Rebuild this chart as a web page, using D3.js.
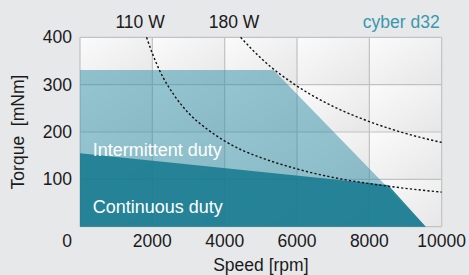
<!DOCTYPE html>
<html>
<head>
<meta charset="utf-8">
<script src="https://cdn.jsdelivr.net/npm/d3@7"></script>
<style>
  body { margin: 0; background: #e7e8ea; }
  svg { display: block; font-family: "Liberation Sans", Arial, sans-serif; }
</style>
</head>
<body>
<svg id="chart" width="469" height="275"></svg>
<script>
// operating ranges (speed rpm, torque mNm)
var intermittentSpeed = [0, 5350, 9560, 0];
var intermittentTorque = [331, 331, 0, 0];
var continuousSpeed = [0, 8520, 9560, 0];
var continuousTorque = [155, 88, 0, 0];

// power curves
var powerLabels = ["110 W", "180 W"];
var power1Speed = [1840, 2000, 2200, 2600, 3000, 3500, 4000, 4500, 5000, 6000, 7000, 8000, 9000, 10000];
var power1Torque = [400, 366, 330, 278, 240, 207, 181, 161, 146, 122, 104, 91, 81, 73];
var power2Speed = [4440, 5000, 6000, 7000, 8000, 9000, 10000];
var power2Torque = [400, 356, 297, 254, 222, 197, 178];

var xTicks = [0, 2000, 4000, 6000, 8000, 10000];
var yTicks = [0, 100, 200, 300, 400];
var title = "cyber d32";

var margin = {top: 37.3, right: 27.3, bottom: 48.3, left: 80};
var W = 469, H = 275;

var svg = d3.select("#chart");

var x = d3.scaleLinear().domain([0, 10000]).range([margin.left, W - margin.right]);
var y = d3.scaleLinear().domain([0, 400]).range([H - margin.bottom, margin.top]);

var defs = svg.append("defs");
var grad = defs.append("linearGradient")
    .attr("id", "cell")
    .attr("x1", 0).attr("y1", 0).attr("x2", 1).attr("y2", 1);
grad.append("stop").attr("offset", "0%").attr("stop-color", "#fbfbfb");
grad.append("stop").attr("offset", "100%").attr("stop-color", "#e6e6e7");

// grid cells, each with its own shading
var cells = [];
for (var i = 0; i < xTicks.length - 1; i++) {
    for (var j = 0; j < yTicks.length - 1; j++) {
        cells.push({x0: xTicks[i], x1: xTicks[i+1], y0: yTicks[j], y1: yTicks[j+1]});
    }
}
svg.append("g").selectAll("rect")
    .data(cells)
    .enter().append("rect")
    .attr("x", function(d) { return x(d.x0); })
    .attr("y", function(d) { return y(d.y1); })
    .attr("width", function(d) { return x(d.x1) - x(d.x0); })
    .attr("height", function(d) { return y(d.y0) - y(d.y1); })
    .attr("fill", "url(#cell)");

// grid lines
var grid = svg.append("g").attr("stroke", "#c2c2c4").attr("stroke-width", 1.2);
grid.selectAll("line.v").data(xTicks).enter().append("line")
    .attr("x1", function(d) { return x(d); }).attr("x2", function(d) { return x(d); })
    .attr("y1", y(0)).attr("y2", y(400));
grid.selectAll("line.h").data(yTicks).enter().append("line")
    .attr("y1", function(d) { return y(d); }).attr("y2", function(d) { return y(d); })
    .attr("x1", x(0)).attr("x2", x(10000));

var area = d3.line()
    .x(function(d) { return x(d[0]); })
    .y(function(d) { return y(d[1]); });

var interPts = d3.zip(intermittentSpeed, intermittentTorque);
var contPts = d3.zip(continuousSpeed, continuousTorque);

svg.append("path")
    .attr("d", area(interPts) + "Z")
    .attr("fill", "#2b8ea3")
    .attr("fill-opacity", 0.5);

svg.append("path")
    .attr("d", area(contPts) + "Z")
    .attr("fill", "#177a90")
    .attr("fill-opacity", 0.88);

// power curves
var curve = d3.line()
    .x(function(d) { return x(d[0]); })
    .y(function(d) { return y(d[1]); })
    .curve(d3.curveMonotoneX);

[d3.zip(power1Speed, power1Torque), d3.zip(power2Speed, power2Torque)].forEach(function(pts, k) {
    svg.append("path")
        .attr("d", curve(pts))
        .attr("fill", "none")
        .attr("stroke", "#111")
        .attr("stroke-width", 1.4)
        .attr("stroke-dasharray", "2.2,2.2");
    svg.append("text")
        .attr("x", x(pts[0][0]) - 6.5)
        .attr("y", 28.3)
        .attr("text-anchor", "middle")
        .attr("font-size", 17.5)
        .attr("fill", "#1a1a1a")
        .text(powerLabels[k]);
});

svg.append("text")
    .attr("x", x(10000) - 2)
    .attr("y", 28.3)
    .attr("text-anchor", "end")
    .attr("font-size", 17.5)
    .attr("fill", "#3a98ad")
    .text(title);

// region labels
svg.append("text")
    .attr("x", 92.7).attr("y", 156)
    .attr("font-size", 18)
    .attr("fill", "#fff")
    .text("Intermittent duty");
svg.append("text")
    .attr("x", 92.7).attr("y", 213)
    .attr("font-size", 18)
    .attr("fill", "#fff")
    .text("Continuous duty");

// tick labels
svg.append("g").selectAll("text")
    .data(xTicks.slice(1))
    .enter().append("text")
    .attr("x", function(d) { return x(d); })
    .attr("y", y(0) + 20)
    .attr("text-anchor", "middle")
    .attr("font-size", 17.5)
    .attr("fill", "#1a1a1a")
    .text(function(d) { return d; });

svg.append("g").selectAll("text")
    .data(yTicks.slice(1))
    .enter().append("text")
    .attr("x", 72)
    .attr("y", function(d) { return y(d); })
    .attr("dy", "0.35em")
    .attr("text-anchor", "end")
    .attr("font-size", 17.5)
    .attr("fill", "#1a1a1a")
    .text(function(d) { return d; });

// shared corner zero
svg.append("text")
    .attr("x", 72).attr("y", y(0) + 20)
    .attr("text-anchor", "end")
    .attr("font-size", 17.5)
    .attr("fill", "#1a1a1a")
    .text("0");

// axis titles
svg.append("text")
    .attr("x", (x(0) + x(10000)) / 2)
    .attr("y", 271)
    .attr("text-anchor", "middle")
    .attr("font-size", 17.5)
    .attr("fill", "#1a1a1a")
    .text("Speed [rpm]");

svg.append("text")
    .attr("transform", "translate(24," + ((y(0) + y(400)) / 2) + ") rotate(-90)")
    .attr("text-anchor", "middle")
    .attr("font-size", 17.5)
    .attr("fill", "#1a1a1a")
    .style("white-space", "pre")
    .text("Torque  [mNm]");
</script>
</body>
</html>
